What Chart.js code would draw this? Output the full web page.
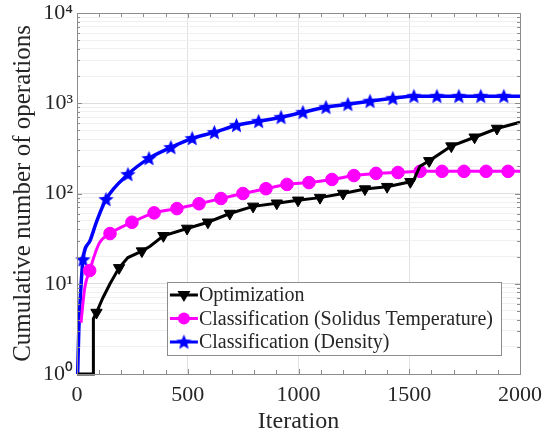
<!DOCTYPE html>
<html>
<head>
<meta charset="utf-8">
<script src="https://cdn.jsdelivr.net/npm/chart.js@4.4.1/dist/chart.umd.min.js"></script>
<style>
html, body { margin: 0; padding: 0; background: #fff; }
</style>
</head>
<body>
<canvas id="c" width="542" height="438"></canvas>
<script>
'use strict';

// Optimization (black, down triangles)
var optIter = [0, 73, 74, 88, 117, 149, 190, 230, 293, 330, 390, 497, 591, 690, 795, 902, 998, 1097, 1201, 1300, 1400, 1505, 1520, 1548, 1590, 1690, 1795, 1896, 2000];
var optOps = [1, 1, 4.1, 4.8, 7, 10, 15, 19.5, 23, 26, 34, 41, 48, 60, 72, 78, 84, 90, 100, 112, 119, 135, 140, 200, 230, 335, 420, 525, 615];
var optMarks = [88, 190, 293, 390, 497, 591, 690, 795, 902, 998, 1097, 1201, 1300, 1400, 1505, 1590, 1690, 1795, 1896];

// Classification (Solidus Temperature) (magenta, circles)
var tempIter = [18, 35, 57, 100, 149, 248, 348, 451, 551, 650, 749, 853, 948, 1047, 1151, 1250, 1350, 1449, 1549, 1648, 1747, 1847, 1946, 2000];
var tempOps = [3.7, 9, 14, 28, 36, 48, 61, 68, 77, 88, 100, 113, 126, 132, 143, 158, 167, 171, 176, 176, 176, 176, 176, 176];
var tempMarks = [57, 149, 248, 348, 451, 551, 650, 749, 853, 948, 1047, 1151, 1250, 1350, 1449, 1549, 1648, 1747, 1847, 1946];

// Classification (Density) (blue, stars)
var densIter = [3, 8, 15, 27, 59, 90, 131, 230, 325, 424, 520, 620, 720, 820, 921, 1020, 1124, 1223, 1323, 1426, 1521, 1625, 1724, 1823, 1927, 2000];
var densOps = [1, 3, 7, 18.5, 30, 50, 86, 163, 245, 324, 408, 476, 570, 631, 699, 794, 903, 975, 1055, 1136, 1196, 1196, 1196, 1196, 1196, 1196];
var densMarks = [27, 131, 230, 325, 424, 520, 620, 720, 820, 921, 1020, 1124, 1223, 1323, 1426, 1521, 1625, 1724, 1823, 1927];

var seriesNames = ['Optimization', 'Classification (Solidus Temperature)', 'Classification (Density)'];
var xTicks = [0, 500, 1000, 1500, 2000];
var yDecades = [1, 10, 100, 1000, 10000];
var yLabels = ['10\u2070', '10\u00b9', '10\u00b2', '10\u00b3', '10\u2074'];

var FONT = '"Liberation Serif", "Times New Roman", serif';
var TEXT = '#262626';

function pairs(xs, ys) {
    return xs.map(function(x, i) { return { x: x, y: ys[i] }; });
}

function markRadius(xs, marks, r) {
    return function(ctx) {
        return marks.indexOf(xs[ctx.dataIndex]) >= 0 ? r : 0;
    };
}

function makeStar(size, color) {
    var c = document.createElement('canvas');
    c.width = c.height = size;
    var g = c.getContext('2d');
    var cx = size / 2, cy = size / 2 + 0.5, R = size / 2 - 0.5, r = R * 0.45;
    g.beginPath();
    for (var i = 0; i < 10; i++) {
        var a = -Math.PI / 2 + i * Math.PI / 5;
        var rr = i % 2 ? r : R;
        g.lineTo(cx + rr * Math.cos(a), cy + rr * Math.sin(a));
    }
    g.closePath();
    g.fillStyle = color;
    g.fill();
    return c;
}

var star = makeStar(17, '#0000ff');

// log grid values 1..9 per decade
var yGrid = [];
yDecades.forEach(function(d) {
    for (var k = 1; k <= 9; k++) {
        if (d * k <= 10000) yGrid.push(d * k);
    }
});
var xMinor = [];
for (var v = 0; v <= 2000; v += 100) xMinor.push(v);

var framePlugin = {
    id: 'frame',
    afterDatasetsDraw: function(chart) {
        var ctx = chart.ctx, a = chart.chartArea;
        var xs = chart.scales.x, ys = chart.scales.y;
        ctx.save();
        ctx.strokeStyle = '#8c8c8c';
        ctx.lineWidth = 1;
        ctx.beginPath();
        xMinor.forEach(function(v) {
            var px = Math.round(xs.getPixelForValue(v)) + 0.5;
            var len = v % 500 === 0 ? 5 : 4;
            ctx.moveTo(px, a.bottom); ctx.lineTo(px, a.bottom - len);
            ctx.moveTo(px, a.top); ctx.lineTo(px, a.top + len);
        });
        yGrid.forEach(function(v) {
            var py = Math.round(ys.getPixelForValue(v)) + 0.5;
            var len = yDecades.indexOf(v) >= 0 ? 5 : 3;
            ctx.moveTo(a.left, py); ctx.lineTo(a.left + len, py);
            ctx.moveTo(a.right, py); ctx.lineTo(a.right - len, py);
        });
        ctx.stroke();
        ctx.strokeRect(Math.round(a.left) + 0.5, Math.round(a.top) + 0.5,
            Math.round(a.right - a.left), Math.round(a.bottom - a.top));

        // legend inside the axes
        var sets = chart.data.datasets;
        ctx.font = '20px ' + FONT;
        var w = 0;
        seriesNames.forEach(function(n) { w = Math.max(w, ctx.measureText(n).width); });
        var bw = w + 40, bh = 73;
        var bx = a.right - 19 - bw, by = a.bottom - 19 - bh;
        ctx.fillStyle = '#fff';
        ctx.fillRect(bx, by, bw, bh);
        ctx.strokeStyle = '#8c8c8c';
        ctx.strokeRect(Math.round(bx) + 0.5, Math.round(by) + 0.5, Math.round(bw), bh);
        ctx.textBaseline = 'middle';
        for (var i = 0; i < sets.length; i++) {
            var ry = by + 13 + i * 23.5;
            var col = sets[i].borderColor;
            ctx.strokeStyle = col;
            ctx.lineWidth = 3;
            ctx.beginPath();
            ctx.moveTo(bx + 3, ry); ctx.lineTo(bx + 31, ry);
            ctx.stroke();
            var mx = bx + 17;
            ctx.fillStyle = col;
            ctx.beginPath();
            if (i === 0) {
                ctx.moveTo(mx - 6.5, ry - 4); ctx.lineTo(mx + 6.5, ry - 4); ctx.lineTo(mx, ry + 7);
                ctx.closePath(); ctx.fill();
            } else if (i === 1) {
                ctx.arc(mx, ry, 6, 0, Math.PI * 2); ctx.fill();
            } else {
                ctx.drawImage(star, mx - star.width / 2, ry - star.height / 2);
            }
            ctx.fillStyle = TEXT;
            ctx.fillText(seriesNames[i], bx + 32, ry + 1);
        }
        ctx.restore();
    }
};

new Chart(document.getElementById('c'), {
    type: 'line',
    data: {
        datasets: [{
            label: seriesNames[0],
            data: pairs(optIter, optOps),
            borderColor: '#000000',
            backgroundColor: '#000000',
            borderWidth: 3,
            tension: 0,
            pointStyle: 'triangle',
            pointRotation: 180,
            pointRadius: markRadius(optIter, optMarks, 6.5),
            pointBorderWidth: 1,
            clip: false
        }, {
            label: seriesNames[1],
            data: pairs(tempIter, tempOps),
            borderColor: '#ff00ff',
            backgroundColor: '#ff00ff',
            borderWidth: 3,
            cubicInterpolationMode: 'monotone',
            pointStyle: 'circle',
            pointRadius: markRadius(tempIter, tempMarks, 6.3),
            pointBorderWidth: 1,
            clip: false
        }, {
            label: seriesNames[2],
            data: pairs(densIter, densOps),
            borderColor: '#0000ff',
            backgroundColor: '#0000ff',
            borderWidth: 3.5,
            cubicInterpolationMode: 'monotone',
            pointStyle: star,
            pointRadius: markRadius(densIter, densMarks, 7),
            clip: false
        }]
    },
    options: {
        responsive: false,
        devicePixelRatio: 1,
        animation: false,
        layout: { padding: { top: 13, right: 22, bottom: 0, left: 0 } },
        plugins: {
            legend: { display: false },
            tooltip: { enabled: false }
        },
        scales: {
            x: {
                type: 'linear',
                min: 0,
                max: 2000,
                afterBuildTicks: function(s) {
                    s.ticks = xTicks.map(function(v) { return { value: v }; });
                },
                afterFit: function(s) {
                    s.height = 64;
                    s.paddingLeft = 0;
                    s.paddingRight = 0;
                },
                grid: { color: '#e2e2e2', drawTicks: false },
                border: { display: false },
                ticks: {
                    font: { family: FONT, size: 22 },
                    color: TEXT,
                    padding: 8,
                    maxRotation: 0,
                    callback: function(value) { return String(value); }
                },
                title: {
                    display: true,
                    text: 'Iteration',
                    font: { family: FONT, size: 24 },
                    color: TEXT,
                    padding: { top: 0, bottom: 2 }
                }
            },
            y: {
                type: 'logarithmic',
                min: 1,
                max: 10000,
                afterBuildTicks: function(s) {
                    s.ticks = yGrid.map(function(v) { return { value: v, major: yDecades.indexOf(v) >= 0 }; });
                },
                afterFit: function(s) {
                    s.width = 77;
                    s.paddingTop = 0;
                    s.paddingBottom = 0;
                },
                grid: {
                    drawTicks: false,
                    color: function(ctx) {
                        return ctx.tick && yDecades.indexOf(ctx.tick.value) >= 0 ? '#dedede' : '#f0f0f0';
                    }
                },
                border: { display: false },
                ticks: {
                    autoSkip: false,
                    font: { family: FONT, size: 22 },
                    color: TEXT,
                    padding: 4,
                    callback: function(value) {
                        var i = yDecades.indexOf(value);
                        return i >= 0 ? yLabels[i] : '';
                    }
                },
                title: {
                    display: true,
                    text: 'Cumulative number of operations',
                    font: { family: FONT, size: 25 },
                    color: TEXT,
                    padding: { top: 8, bottom: 0 }
                }
            }
        }
    },
    plugins: [framePlugin]
});
</script>
</body>
</html>
